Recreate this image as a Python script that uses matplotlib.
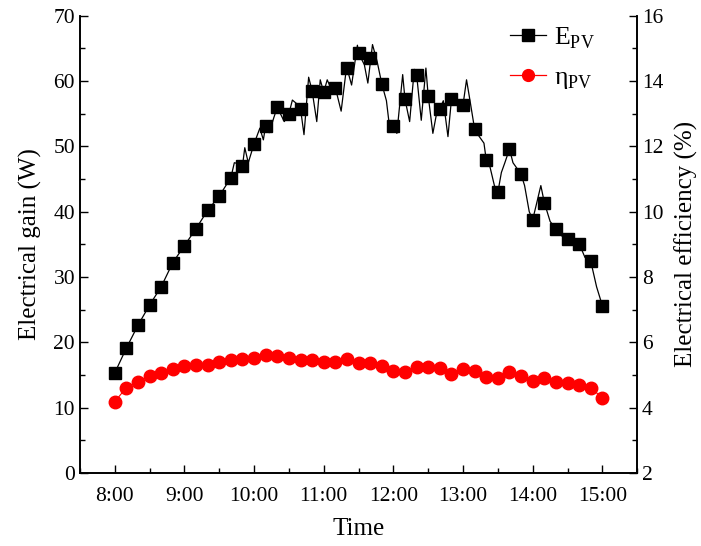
import numpy as np
import matplotlib.pyplot as plt
from matplotlib.ticker import MultipleLocator, FuncFormatter

plt.rcParams['font.family'] = ['Liberation Serif', 'DejaVu Serif']
plt.rcParams['mathtext.fontset'] = 'custom'
plt.rcParams['mathtext.rm'] = 'Liberation Serif'

# 10-minute samples, 8:00 to 15:00 (minutes after 8:00)
t_min = np.arange(0, 421, 10)

e_pv = [15.3, 19.1, 22.6, 25.7, 28.5, 32.2, 34.8, 37.4, 40.2, 42.4,
        45.2, 47.0, 50.4, 53.2, 56.0, 55.0, 55.8, 58.5, 58.3, 59.0,
        62.0, 64.3, 63.6, 59.6, 53.2, 57.2, 61.0, 57.7, 55.8, 57.2,
        56.4, 52.6, 47.9, 43.0, 49.6, 45.7, 38.8, 41.4, 37.4, 35.8,
        35.1, 32.4, 25.6]

eta_pv = [4.18, 4.61, 4.78, 4.96, 5.05, 5.19, 5.26, 5.31, 5.31, 5.40,
          5.45, 5.49, 5.53, 5.61, 5.59, 5.53, 5.46, 5.46, 5.40, 5.39,
          5.49, 5.38, 5.38, 5.28, 5.12, 5.10, 5.24, 5.24, 5.21, 5.03,
          5.18, 5.12, 4.94, 4.92, 5.10, 4.97, 4.82, 4.92, 4.77, 4.75,
          4.70, 4.61, 4.29]

# high-resolution gain trace (turning points)
line_t = [0, 10, 20, 30, 40, 50, 60, 70, 80, 90, 100, 103, 108, 110, 112, 115,
          120, 125, 128, 130, 133, 137, 140, 146, 150, 153, 157, 160, 163, 167,
          170, 174, 177, 180, 183, 186, 190, 195, 199, 200, 204, 209, 210, 215,
          218, 222, 226, 230, 234, 237, 240, 243, 248, 250, 254, 258, 260, 264,
          268, 270, 274, 278, 280, 283, 287, 290, 293, 296, 300, 303, 306, 310,
          314, 318, 320, 323, 327, 330, 333, 336, 340, 343, 347, 350, 353, 357,
          360, 363, 367, 370, 375, 380, 385, 390, 395, 400, 405, 410, 415, 420]
line_v = [15.3, 19.1, 22.6, 25.7, 28.5, 32.2, 34.8, 37.4, 40.2, 42.4, 45.2, 47.5, 47.3, 47.0, 49.8, 47.5,
          50.4, 52.8, 51.0, 53.2, 52.1, 54.4, 56.0, 53.8, 55.0, 57.1, 56.5, 55.8, 51.8, 60.6,
          58.5, 53.8, 60.2, 58.3, 60.2, 59.0, 59.0, 55.4, 61.2, 62.0, 59.4, 65.5, 64.3, 62.5,
          59.7, 65.6, 63.0, 59.6, 57.0, 52.5, 53.2, 52.0, 61.0, 57.2, 53.8, 61.8, 61.0, 54.0,
          62.0, 57.7, 52.0, 55.8, 55.8, 57.0, 51.5, 57.2, 58.0, 56.0, 56.4, 60.2, 57.0, 52.6,
          51.5, 50.5, 47.9, 47.0, 44.0, 43.0, 46.0, 47.5, 49.6, 47.5, 46.5, 45.7, 44.0, 40.0,
          38.8, 41.0, 44.0, 41.4, 38.5, 37.4, 36.3, 35.8, 35.5, 35.1, 33.0, 32.4, 28.5, 25.6]

fig, ax = plt.subplots(figsize=(7.01, 5.46), dpi=100)
fig.subplots_adjust(left=0.114, right=0.909, bottom=0.134, top=0.971)
ax2 = ax.twinx()

hours = 8 + np.array(t_min) / 60
line_h = 8 + np.array(line_t) / 60

ax.plot(line_h, line_v, color='black', lw=0.9, zorder=2)
ax.plot(hours, e_pv, 's', color='black', ms=8.5, zorder=3)
ax2.plot(hours, eta_pv, '-o', color='red', lw=0.8, ms=9, zorder=3)

ax.set_xlim(7.5, 15.5)
ax.set_ylim(0, 70)
ax2.set_ylim(2, 16)

ax.xaxis.set_major_locator(MultipleLocator(1))
ax.xaxis.set_minor_locator(MultipleLocator(0.5))
ax.xaxis.set_major_formatter(FuncFormatter(lambda v, p: f'{int(round(v))}:00'))
ax.yaxis.set_major_locator(MultipleLocator(10))
ax.yaxis.set_minor_locator(MultipleLocator(5))
ax2.yaxis.set_major_locator(MultipleLocator(2))
ax2.yaxis.set_minor_locator(MultipleLocator(1))

for a in (ax, ax2):
    a.tick_params(which='both', direction='in', labelsize=15.5, width=1)
    a.tick_params(which='major', length=6)
    a.tick_params(which='minor', length=3.5)
    a.spines['top'].set_visible(False)
    for s in a.spines.values():
        s.set_linewidth(1.2)
ax.tick_params(axis='x', pad=10)

ax.set_xlabel('Time', fontsize=18, labelpad=9)
ax.set_ylabel('Electrical gain (W)', fontsize=18, labelpad=8)
ax2.set_ylabel('Electrical efficiency (%)', fontsize=18, labelpad=8)

h1, = ax.plot([], [], '-s', color='black', lw=0.9, ms=8)
h2, = ax.plot([], [], '-o', color='red', lw=0.9, ms=8.5)
ax.legend([h1, h2], [r'E$_{\mathrm{PV}}$', r'η$_{\mathrm{PV}}$'],
          loc='upper left', bbox_to_anchor=(0.73, 1.03), frameon=False,
          fontsize=18.5, handlelength=1.4, labelspacing=0.6, handletextpad=0.3)

fig.savefig('out.png', dpi=100)
